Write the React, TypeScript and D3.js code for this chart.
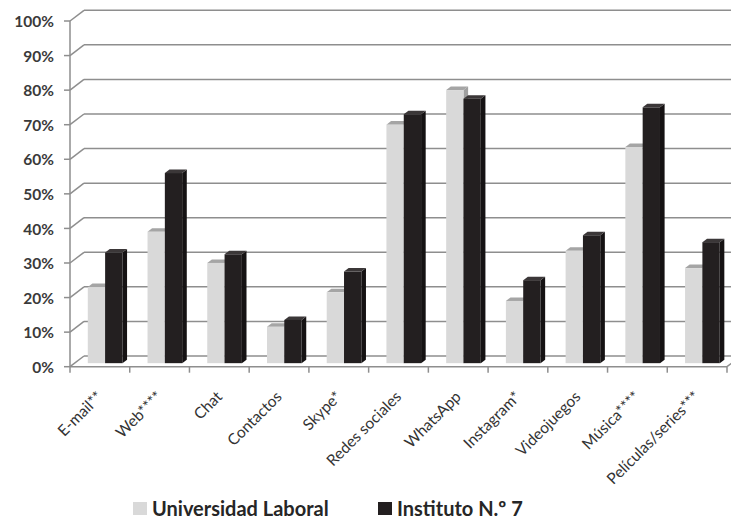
import React from "react";
import * as d3 from "d3";

const categories = ["E-mail**", "Web****", "Chat", "Contactos", "Skype*", "Redes sociales", "WhatsApp", "Instagram*", "Videojuegos", "Música****", "Películas/series***"];
const universidad = [22, 38, 29, 10.5, 20.5, 69, 79, 18, 32.5, 62.5, 27.5];
const instituto = [32, 55, 31.5, 12.5, 26.5, 72, 76.5, 24, 37, 74, 35];
const yTicks = [0, 10, 20, 30, 40, 50, 60, 70, 80, 90, 100];
const seriesNames = ["Universidad Laboral", "Instituto N.º 7"];

const W = 731, H = 521;
const DX = 14, DY = -10.7;
const F0 = 0.33, FT = 0.33;
const FONT = "Lato, 'Open Sans', sans-serif";

export default function App() {
  const x = d3.scaleBand<string>().domain(categories).range([70, 727]).padding(0);
  const y = d3.scaleLinear().domain([0, 100]).range([366.7, 21]);
  const bw = x.bandwidth();
  const barW = bw * 0.29;
  const bdx = DX * FT, bdy = DY * FT;
  const ox = DX * F0, oy = DY * F0;
  const grid = "#8e8e8e";

  const bars: any[] = [];
  categories.forEach((c, i) => {
    [universidad[i], instituto[i]].forEach((v, s) => {
      const x0 = (x(c) as number) + bw * 0.298 + s * barW;
      const x1 = x0 + barW;
      const yb = y(0) + oy;
      const yt = y(v) + oy;
      const front = s === 0 ? "#d9d9d9" : "#231f20";
      const top = s === 0 ? "#a5a5a5" : "#3b3738";
      const side = s === 0 ? "#a0a0a0" : "#151213";
      bars.push(
        <g key={c + s}>
          <polygon points={`${x1},${yt} ${x1 + bdx},${yt + bdy} ${x1 + bdx},${yb + bdy} ${x1},${yb}`} fill={side} />
          <polygon points={`${x0},${yt} ${x0 + bdx},${yt + bdy} ${x1 + bdx},${yt + bdy} ${x1},${yt}`} fill={top} />
          <rect x={x0} y={yt} width={barW} height={yb - yt} fill={front} />
        </g>
      );
    });
  });

  return (
    <svg width={W} height={H} style={{ position: "absolute", left: 0, top: 0, background: "#fff" }}>
      {yTicks.map((t) => (
        <g key={t}>
          <line x1={70 + DX} x2={727 + DX} y1={y(t) + DY} y2={y(t) + DY} stroke={grid} strokeWidth={1.5} />
          <line x1={70} x2={70 + DX} y1={y(t)} y2={y(t) + DY} stroke={grid} strokeWidth={1.5} />
          <line x1={64} x2={70} y1={y(t)} y2={y(t)} stroke={grid} strokeWidth={1.5} />
          <text x={54} y={y(t)} dy="0.4em" textAnchor="end" fontFamily={FONT} fontWeight={700} fontSize={15.5} fill="#3a3a3a">{t}%</text>
        </g>
      ))}
      <line x1={70} x2={70} y1={y(100)} y2={y(0)} stroke={grid} strokeWidth={1.5} />
      <line x1={70} x2={727} y1={y(0)} y2={y(0)} stroke={grid} strokeWidth={1.5} />
      <line x1={727} x2={727 + DX} y1={y(0)} y2={y(0) + DY} stroke={grid} strokeWidth={1.5} />
      {categories.map((c) => (
        <line key={c} x1={x(c) as number} x2={x(c) as number} y1={y(0)} y2={y(0) + 6} stroke={grid} strokeWidth={1.5} />
      ))}
      <line x1={727} x2={727} y1={y(0)} y2={y(0) + 6} stroke={grid} strokeWidth={1.5} />
      {bars}
      {categories.map((c) => {
        const cx = (x(c) as number) + bw / 2 + 1;
        const cy = 395;
        return (
          <text key={c} x={cx} y={cy} textAnchor="end" dominantBaseline="middle" transform={`rotate(-45 ${cx} ${cy})`} fontFamily={FONT} fontSize={15.5} fill="#333">{c}</text>
        );
      })}
      <rect x={133} y={502} width={14} height={13} fill="#d9d9d9" />
      <text x={152} y={516} fontFamily={FONT} fontWeight={700} fontSize={20} fill="#262626">{seriesNames[0]}</text>
      <rect x={378} y={502} width={14} height={13} fill="#231f20" />
      <text x={397} y={516} fontFamily={FONT} fontWeight={700} fontSize={20} fill="#262626">{seriesNames[1]}</text>
    </svg>
  );
}
